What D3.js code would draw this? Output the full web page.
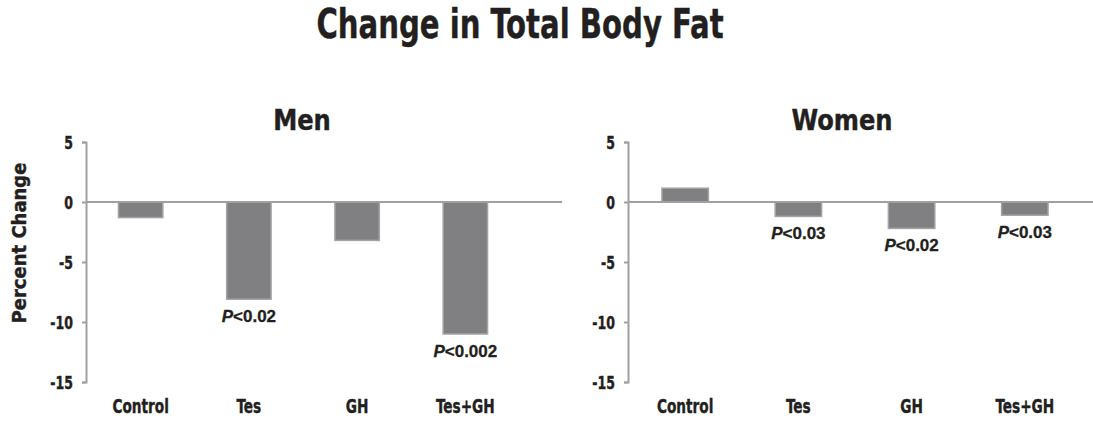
<!DOCTYPE html>
<html>
<head>
<meta charset="utf-8">
<script src="https://cdn.jsdelivr.net/npm/d3@7"></script>
<style>
  body { margin: 0; background: #fff; }
  .cond { font-family: "Liberation Sans Narrow", "DejaVu Sans Condensed", "Liberation Sans", sans-serif; font-weight: bold; }
  .pval { font-family: "Liberation Sans", Arial, sans-serif; font-weight: bold; }
</style>
</head>
<body>
<div id="chart"></div>
<script>
// Daten
const groups = ["Control", "Tes", "GH", "Tes+GH"];
const menValues = [-1.3, -8.1, -3.2, -11.0];
const womenValues = [1.15, -1.2, -2.2, -1.1];
const menPValues = ["", "0.02", "", "0.002"];
const womenPValues = ["", "0.03", "0.02", "0.03"];
const yTicks = [5, 0, -5, -10, -15];

const width = 1093;
const height = 422;
const ink = "#231f20";

const svg = d3.select("#chart")
  .append("svg")
  .attr("width", width)
  .attr("height", height);

// schmale Schrift per horizontaler Skalierung
function condText(parent, x, y, size, sx, txt, rotate) {
  return parent.append("text")
    .attr("class", "cond")
    .attr("transform", `translate(${x},${y})` + (rotate ? ` rotate(${rotate})` : "") + ` scale(${sx},1)`)
    .attr("text-anchor", "middle")
    .style("font-size", size + "px")
    .attr("fill", ink)
    .attr("stroke", ink)
    .attr("stroke-width", 0.4)
    .text(txt);
}

// Haupttitel
condText(svg, 520, 38, 40, 0.81, "Change in Total Body Fat");

// Y-Achsenbeschriftung
condText(svg, 26, 243, 20, 1.0, "Percent Change", -90);

const y = d3.scaleLinear().domain([-15, 5]).range([382, 142]);

function drawPanel(title, values, pvals, x0, x1, zeroEnd, titleX) {
  const g = svg.append("g");
  const x = d3.scaleBand().domain(groups).range([x0, x1]).paddingInner(0.59).paddingOuter(0.3);

  // Panel-Titel
  condText(g, titleX, 130, 28, 0.96, title);

  // Balken
  g.selectAll("rect")
    .data(values)
    .join("rect")
    .attr("x", (d, i) => x(groups[i]))
    .attr("width", x.bandwidth())
    .attr("y", d => y(Math.max(0, d)))
    .attr("height", d => Math.abs(y(d) - y(0)))
    .attr("fill", "#808083")
    .attr("stroke", "#a3a3a5")
    .attr("stroke-width", 1.5);

  // Y-Achse
  const axis = g.append("g")
    .attr("transform", `translate(${x0},0)`)
    .call(d3.axisLeft(y).tickValues(yTicks).tickSize(4).tickPadding(8).tickFormat(d => String(d)));
  axis.select(".domain").attr("stroke", "#a0a0a2").attr("stroke-width", 2);
  axis.selectAll(".tick line").attr("stroke", "#a0a0a2").attr("stroke-width", 2);
  axis.selectAll(".tick text")
    .attr("class", "cond")
    .style("font-size", "17px")
    .attr("fill", ink)
    .attr("stroke", ink)
    .attr("stroke-width", 0.4)
    .attr("transform", "scale(0.82,1)")
    .attr("x", -13 / 0.82)
    .attr("dy", "0.36em");

  // Nulllinie
  g.append("line")
    .attr("x1", x0)
    .attr("x2", zeroEnd)
    .attr("y1", y(0))
    .attr("y2", y(0))
    .attr("stroke", "#a0a0a2")
    .attr("stroke-width", 2);

  // Kategorien
  groups.forEach(c => {
    condText(g, x(c) + x.bandwidth() / 2, 413, 20, 0.76, c);
  });

  // P-Werte
  values.forEach((v, i) => {
    if (!pvals[i]) return;
    const t = g.append("text")
      .attr("class", "pval")
      .attr("x", x(groups[i]) + x.bandwidth() / 2)
      .attr("y", y(v) + 23)
      .attr("text-anchor", "middle")
      .style("font-size", "17px")
      .attr("fill", ink)
      .attr("stroke", ink)
      .attr("stroke-width", 0.3);
    t.append("tspan").style("font-style", "italic").text("P");
    t.append("tspan").text("<" + pvals[i]);
  });
}

drawPanel("Men", menValues, menPValues, 86, 520, 562, 302);
drawPanel("Women", womenValues, womenPValues, 628, 1082, 1093, 842);
</script>
</body>
</html>
